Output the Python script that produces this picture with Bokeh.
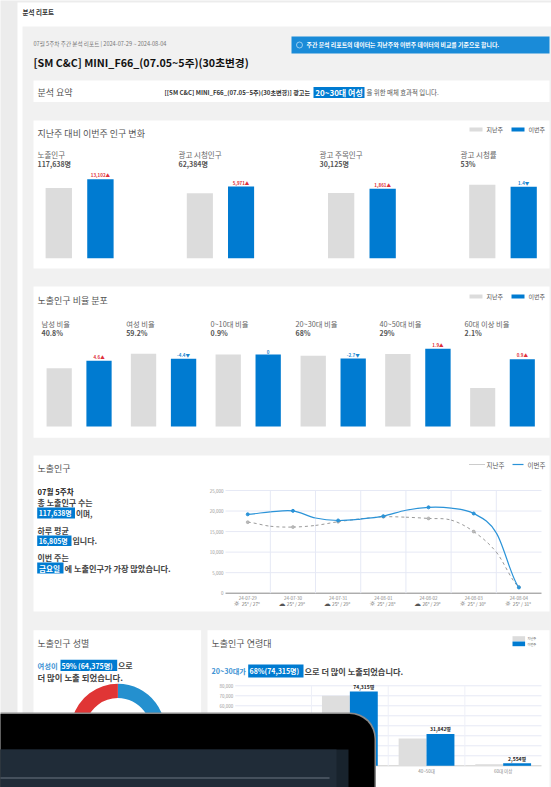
from bokeh.plotting import figure
from bokeh.models import Range1d, BoxAnnotation
from bokeh.core.properties import value
from bokeh.embed import file_html
from bokeh.resources import INLINE
import math

FONT = "Noto Sans CJK KR"
GRAY, BLUE = "#dcdcdc", "#007bd1"

LEGEND = ["지난주", "이번주"]
CHANGE_TITLES = ["노출인구", "광고 시청인구", "광고 주목인구", "광고 시청률"]
CHANGE_TOTALS = ["117,638명", "62,384명", "30,125명", "53%"]
CHANGE_PREV = [104536, 56413, 28264, 54.4]
CHANGE_CUR = [117638, 62384, 30125, 53]
CHANGE_LABELS = ["13,102▲", "5,971▲", "1,861▲", "1.4▼"]

RATIO_TITLES = ["남성 비율", "여성 비율", "0~10대 비율", "20~30대 비율", "40~50대 비율", "60대 이상 비율"]
RATIO_TOTALS = ["40.8%", "59.2%", "0.9%", "68%", "29%", "2.1%"]
RATIO_PREV = [36.2, 63.6, 0.9, 70.7, 27.1, 1.2]
RATIO_CUR = [40.8, 59.2, 0.9, 68, 29, 2.1]
RATIO_LABELS = ["4.6▲", "-4.4▼", "0", "-2.7▼", "1.9▲", "0.9▲"]

DATES = ["24-07-29", "24-07-30", "24-07-31", "24-08-01", "24-08-02", "24-08-03", "24-08-04"]
WEATHER = ["25° / 27°", "25° / 29°", "25° / 29°", "25° / 28°", "26° / 29°", "25° / 30°", "25° / 31°"]
LINE_T = [0, .5, 1, 1.5, 2, 2.5, 3, 3.5, 4, 4.5, 5, 5.5, 6]
LAST_WEEK = [17300, 16300, 16100, 16500, 17400, 18100, 18600, 18500, 18200, 17800, 15000, 10000, 1500]
THIS_WEEK = [19200, 19800, 20050, 18300, 17700, 18050, 18750, 20200, 20900, 20700, 19400, 14700, 1400]
Y_TICKS = [0, 5000, 10000, 15000, 20000, 25000]

AGES = ["20~30대", "40~50대", "60대 이상"]
AGE_PREV = [70000, 27300, 1600]
AGE_CUR = [74315, 31842, 2554]
AGE_LABELS = ["74,315명", "31,842명", "2,554명"]
AGE_TICKS = [10000, 20000, 30000, 40000, 50000, 60000, 70000, 80000]

GENDER = ["여성", "남성"]
GENDER_SHARE = [59, 41]
GENDER_COLORS = ["#2490cf", "#e03535"]

p = figure(width=551, height=787, x_range=Range1d(0, 551), y_range=Range1d(787, 0),
           output_backend="svg", toolbar_location=None, min_border=0,
           x_axis_type=None, y_axis_type=None, background_fill_color="#ececec",
           border_fill_color="#ececec", outline_line_color=None,
           styles={"position": "absolute", "left": "0", "top": "0"})
p.grid.visible = False


def box(l, r, t, b, c):
    p.quad(left=[l], right=[r], top=[t], bottom=[b], fill_color=c, line_color=None)


def txt(x, y, s, size=7, color="#444444", align="left", style="normal"):
    p.text(x=[x], y=[y], text=[s], text_font=value(FONT), text_font_size=f"{size}px",
           text_color=color, text_align=align, text_baseline="middle", text_font_style=style)


def legend(y, tx1, tx2, sw1=(469, 482), sw2=(511, 524)):
    box(sw1[0], sw1[1], y - 2, y + 2, GRAY)
    box(sw2[0], sw2[1], y - 2, y + 2, BLUE)
    txt(tx1, y, LEGEND[0], 6, "#555555")
    txt(tx2, y, LEGEND[1], 6, "#555555")


box(17, 551, 2, 787, "#ffffff")
box(22, 551, 26, 787, "#f1f1f1")
txt(22, 11, "분석 리포트", 6.5, "#333333", style="bold")
txt(33, 43, "07월 5주차 주간 분석 리포트 | 2024-07-29 ~ 2024-08-04", 5.6, "#777777")
box(291, 549, 36, 53, "#1a8bd8")
p.circle(x=[299], y=[44.5], radius=3, radius_units="screen", fill_color=None, line_color="#cfe8f8", line_width=0.7)
txt(306, 44, "주간 분석 리포트의 데이터는 지난주와 이번주 데이터의 비교를 기준으로 합니다.", 5.9, "#ffffff", style="bold")
txt(33, 62, "[SM C&C] MINI_F66_(07.05~5주)(30초변경)", 10.7, "#111111", style="bold")

box(33, 549, 80, 101.5, "#ffffff")
txt(37, 91.5, "분석 요약", 9, "#555555")
txt(164, 91.5, "[[SM C&C] MINI_F66_(07.05~5주)(30초변경)] 광고는", 6.1, "#333333", style="bold")
box(313, 364, 86.5, 97.5, BLUE)
txt(338.5, 92, "20~30대 여성", 8, "#ffffff", align="center", style="bold")
txt(366, 91.5, "을 위한 매체 효과적 입니다.", 6.4, "#555555")


def bars(l, r, top_px, base_px, ymax, prev, cur, label, label_color):
    """one pair of bars, scaled by the chart's own range"""
    sub = p.subplot(x_source=Range1d(0, 1), y_source=Range1d(0, ymax),
                    x_target=Range1d(l, r), y_target=Range1d(base_px, top_px))
    sub.vbar(x=[0.2, 0.8], top=[prev, cur], width=0.38, bottom=0,
             fill_color=[GRAY, BLUE], line_color=None)
    sub.text(x=[0.8], y=[cur], text=[label], text_font=value(FONT), text_font_size="4.5px",
             text_color=label_color, text_align="center", text_baseline="bottom", y_offset=-1,
             text_font_style="bold")


def color_of(lbl):
    return "#e0303a" if "▲" in lbl else "#1a86d0"


# change panel
box(33, 549, 120, 268, "#ffffff")
txt(37, 133, "지난주 대비 이번주 인구 변화", 9, "#555555")
legend(129, 486, 528)
change_x = [37, 178, 319, 460]
change_bar = [(44.4, 113.8), (185.6, 254.3), (326.8, 396), (468, 537)]
change_px = [79, 71.7, 69.4, 73.4]
change_ref = [117638, 62384, 30125, 54.4]
for i in range(4):
    txt(change_x[i], 154, CHANGE_TITLES[i], 7.5, "#666666")
    txt(change_x[i], 163, CHANGE_TOTALS[i], 7, "#555555", style="bold")
    bars(change_bar[i][0], change_bar[i][1], 167.7, 257.7, change_ref[i] / change_px[i] * 90,
         CHANGE_PREV[i], CHANGE_CUR[i], CHANGE_LABELS[i], color_of(CHANGE_LABELS[i]))

# ratio panel
box(33, 549, 286, 437.3, "#ffffff")
txt(37, 299.7, "노출인구 비율 분포", 9, "#555555")
legend(296, 486, 528)
ratio_x = [41, 125.7, 210, 295, 379, 464]
ratio_bar = [(45.4, 111.8), (129.7, 196.4), (214.4, 281), (299.4, 366), (384, 450.8), (469, 535)]
ratio_px = [65.7, 72.7, 72, 70.7, 77.7, 67.3]
ratio_ref = [40.8, 63.6, 0.9, 70.7, 29, 2.1]
for i in range(6):
    txt(ratio_x[i], 323, RATIO_TITLES[i], 7.3, "#666666")
    txt(ratio_x[i], 332.3, RATIO_TOTALS[i], 7, "#555555", style="bold")
    bars(ratio_bar[i][0], ratio_bar[i][1], 336, 426, ratio_ref[i] / ratio_px[i] * 90,
         RATIO_PREV[i], RATIO_CUR[i], RATIO_LABELS[i], color_of(RATIO_LABELS[i]))

# exposure panel
box(33, 549, 455, 611, "#ffffff")
txt(37, 468, "노출인구", 9, "#555555")
txt(37, 491, "07월 5주차", 7.6, "#222222", style="bold")
txt(37, 502, "총 노출인구 수는", 8, "#444444", style="bold")
box(36.7, 74.5, 507, 518, BLUE)
txt(38.2, 512.5, "117,638명", 6.9, "#ffffff", style="bold")
txt(75.5, 512.5, "이며,", 7.6, "#444444", style="bold")
txt(37, 530, "하루 평균", 8, "#444444", style="bold")
box(36.7, 71, 535, 545.5, BLUE)
txt(38.2, 540, "16,805명", 6.9, "#ffffff", style="bold")
txt(72, 540, "입니다.", 8, "#444444", style="bold")
txt(37, 557, "이번 주는", 8, "#444444", style="bold")
box(36.7, 63, 562, 573, BLUE)
txt(38.5, 567.5, "금요일", 7.6, "#ffffff", style="bold")
txt(64, 567.5, "에 노출인구가 가장 많았습니다.", 8.2, "#444444", style="bold")

p.line(x=[469, 485], y=[464, 464], line_color="#999999", line_dash="1 1", line_width=1)
txt(486, 464, LEGEND[0], 6.5, "#555555")
p.line(x=[512, 523], y=[464, 464], line_color="#2a93d8", line_width=1.2)
txt(527, 464, LEGEND[1], 6.5, "#555555")

lp = p.subplot(x_source=Range1d(-0.4923, 6.5), y_source=Range1d(0, 25000),
               x_target=Range1d(225, 541), y_target=Range1d(592.7, 490))
for t in Y_TICKS:
    lp.segment(x0=[-0.4923], x1=[6.5], y0=[t], y1=[t], line_color="#888888" if t == 0 else "#e6e9f5",
               line_width=1)
    lp.text(x=[-0.4923], y=[t], text=[f"{t:,}"], text_font=value(FONT), text_font_size="4.5px",
            text_color="#999999", text_align="right", text_baseline="middle", x_offset=-2)
for i in range(6):
    lp.segment(x0=[i + .5], x1=[i + .5], y0=[0], y1=[25000], line_color="#e6e9f5", line_width=1)


def smooth(target, ts, ys, **kw):
    n = len(ts)
    x0, y0, x1, y1, cx0, cy0, cx1, cy1 = [], [], [], [], [], [], [], []
    for i in range(n - 1):
        a = ys[max(i - 1, 0)]
        b, c = ys[i], ys[i + 1]
        d = ys[min(i + 2, n - 1)]
        h = ts[i + 1] - ts[i]
        x0.append(ts[i]); y0.append(b); x1.append(ts[i + 1]); y1.append(c)
        cx0.append(ts[i] + h / 3); cy0.append(b + (c - a) / 6)
        cx1.append(ts[i + 1] - h / 3); cy1.append(c - (d - b) / 6)
    target.bezier(x0=x0, y0=y0, x1=x1, y1=y1, cx0=cx0, cy0=cy0, cx1=cx1, cy1=cy1, **kw)


smooth(lp, LINE_T, LAST_WEEK, line_color="#9a9a9a", line_dash="3 3", line_width=1)
smooth(lp, LINE_T, THIS_WEEK, line_color="#2a93d8", line_width=1.2)
lp.scatter(x=LINE_T[::2], y=LAST_WEEK[::2], size=3, fill_color="#bbbbbb", line_color="#999999", line_width=0.5)
lp.scatter(x=LINE_T[::2], y=THIS_WEEK[::2], size=3, fill_color="#2a93d8", line_color="#2a93d8")
for i, (d, w) in enumerate(zip(DATES, WEATHER)):
    lp.text(x=[i], y=[0], text=[d], text_font=value(FONT), text_font_size="4.5px", text_color="#888888",
            text_align="center", text_baseline="middle", y_offset=4.5)
    lp.text(x=[i], y=[0], text=[w], text_font=value(FONT), text_font_size="4.8px", text_color="#777777",
            text_align="center", text_baseline="middle", y_offset=10.5, x_offset=3)
    lp.text(x=[i], y=[0], text=["☼" if i in (0, 3, 5, 6) else "☁"], text_font=value("DejaVu Sans"),
            text_font_size="7px", text_color="#555555", text_align="center", text_baseline="middle",
            y_offset=10.5, x_offset=-11)

# gender panel
box(33, 200.6, 629.7, 787, "#ffffff")
txt(37, 643, "노출인구 성별", 9, "#555555")
txt(37, 665, "여성이", 7.3, "#3f94d4", style="bold")
box(60, 116.7, 659.3, 670.5, BLUE)
txt(61, 665, "59% (64,375명)", 7, "#ffffff", style="bold")
txt(117.5, 665, "으로", 8, "#444444", style="bold")
txt(37, 676, "더 많이 노출 되었습니다.", 8.4, "#444444", style="bold")

dn = p.subplot(x_source=Range1d(-1, 1), y_source=Range1d(-1, 1),
               x_target=Range1d(70.1, 164.7), y_target=Range1d(777.9, 683.3))
ang = math.pi / 2
for share, col in zip(GENDER_SHARE, GENDER_COLORS):
    end = ang - 2 * math.pi * share / sum(GENDER_SHARE)
    dn.annular_wedge(x=[0], y=[0], inner_radius=33, outer_radius=47.3, inner_radius_units="screen",
                     outer_radius_units="screen", start_angle=[end], end_angle=[ang],
                     fill_color=col, line_color=None)
    ang = end

# age panel
box(207, 549, 629.7, 787, "#ffffff")
txt(211, 643, "노출인구 연령대", 9, "#555555")
box(512, 524.6, 635.7, 640.7, GRAY)
box(512, 524.6, 641, 645.7, BLUE)
txt(527, 637.5, LEGEND[0], 3.2, "#666666")
txt(527, 643.5, LEGEND[1], 3.2, "#666666")
txt(211, 670.5, "20~30대가", 7.2, "#3f94d4", style="bold")
box(247.7, 303, 664, 677, BLUE)
txt(249, 670.5, "68%(74,315명)", 7, "#ffffff", style="bold")
txt(304, 670.5, "으로 더 많이 노출되었습니다.", 8.2, "#444444", style="bold")

ap = p.subplot(x_source=Range1d(-1.496, 2.5), y_source=Range1d(0, 80000),
               x_target=Range1d(234.7, 541), y_target=Range1d(765.3, 685.3))
for t in AGE_TICKS:
    ap.segment(x0=[-1.496], x1=[2.5], y0=[t], y1=[t], line_color="#e6e9f5", line_width=1)
    ap.text(x=[-1.496], y=[t], text=[f"{t:,}"], text_font=value(FONT), text_font_size="4.5px",
            text_color="#999999", text_align="right", text_baseline="middle", x_offset=-2)
ap.segment(x0=[-1.496], x1=[2.5], y0=[0], y1=[0], line_color="#cccccc", line_width=1)
for i in range(-1, 2):
    ap.segment(x0=[i + .5], x1=[i + .5], y0=[0], y1=[80000], line_color="#eef0f8", line_width=1)
ax = list(range(len(AGES)))
ap.vbar(x=[a - 0.182 for a in ax], top=AGE_PREV, width=0.364, fill_color="#dedede", line_color=None)
ap.vbar(x=[a + 0.182 for a in ax], top=AGE_CUR, width=0.364, fill_color=BLUE, line_color=None)
ap.text(x=[a + 0.182 for a in ax], y=AGE_CUR, text=AGE_LABELS, text_font=value(FONT), text_font_size="5px",
        text_color="#222222", text_align="center", text_baseline="bottom", y_offset=-1.5, text_font_style="bold")
ap.text(x=ax, y=[0] * 3, text=AGES, text_font=value(FONT), text_font_size="4.5px", text_color="#888888",
        text_align="center", text_baseline="middle", y_offset=5)

# device in the foreground
for (l, r, t, col, rad) in [(-40, 375.5, 712, "#8a8a8a", 26), (-40, 374, 713.5, "#000000", 25)]:
    p.add_layout(BoxAnnotation(left=l, right=r, top=t, bottom=830, fill_color=col, fill_alpha=1,
                               line_color=None, border_radius=rad))
p.add_layout(BoxAnnotation(left=-10, right=348, top=749, bottom=830, fill_color="#18232d", fill_alpha=1, line_color=None))
p.add_layout(BoxAnnotation(left=-10, right=336, top=749, bottom=830, fill_color="#202c38", fill_alpha=1, line_color=None))
p.add_layout(BoxAnnotation(left=-10, right=329, top=777, bottom=778, fill_color="#6b7580", fill_alpha=1, line_color=None))

open("out.html", "w").write(file_html(p, INLINE))
